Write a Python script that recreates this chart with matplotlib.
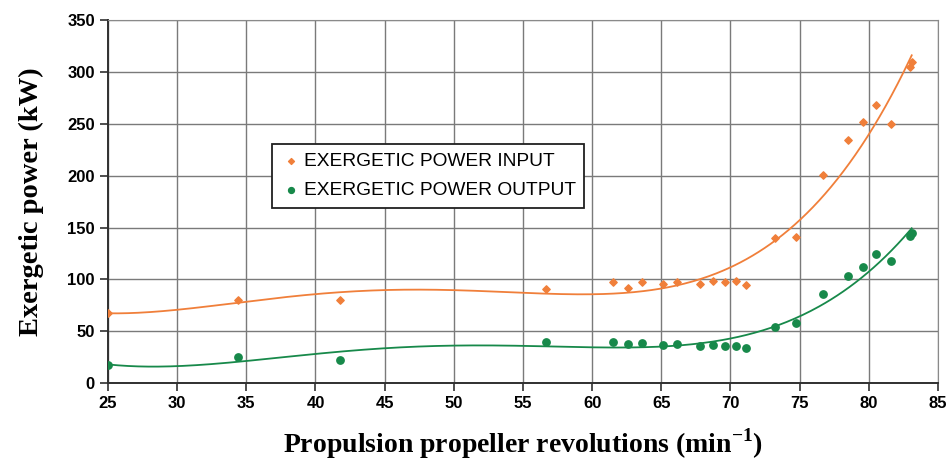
import numpy as np
import matplotlib
matplotlib.use("Agg")
import matplotlib.pyplot as plt

plt.rcParams["mathtext.fontset"] = "custom"
plt.rcParams["mathtext.bf"] = "Liberation Serif:bold"
plt.rcParams["mathtext.rm"] = "Liberation Serif:bold"

rpm = [25.0, 34.4, 41.8, 56.7, 61.5, 62.6, 63.6, 65.1, 66.1, 67.8, 68.7, 69.6, 70.4, 71.1,
       73.2, 74.7, 76.7, 78.5, 79.6, 80.5, 81.6, 83.0, 83.1]
power_in = [67.5, 80, 80, 90.5, 97.5, 91.5, 97.5, 96, 97.5, 96, 98, 97.5, 98, 94.5,
            139.5, 141, 201, 234.5, 252, 268, 250, 305, 310]
power_out = [17.5, 24.8, 22.5, 40, 40, 37.6, 39, 37, 37.5, 35.7, 36.5, 35.7, 36, 33.5,
             54.4, 57.6, 85.6, 103.3, 111.7, 124.5, 117.8, 142, 144.5]

label_in = "EXERGETIC POWER INPUT"
label_out = "EXERGETIC POWER OUTPUT"
xlabel = "Propulsion propeller revolutions (min$^{\\mathbf{-1}}$)"
ylabel = "Exergetic power (kW)"

c_in = "#f07f3a"
c_out = "#17894a"

fig = plt.figure(figsize=(9.52, 4.70), dpi=100)
ax = fig.add_axes([0.1134, 0.185, 0.8719, 0.772])

x = np.array(rpm)
xs = np.linspace(min(rpm), max(rpm), 400)
deg = 4
p_in = np.polyfit(x, power_in, deg)
p_out = np.polyfit(x, power_out, deg)
ax.plot(xs, np.polyval(p_in, xs), color=c_in, lw=1.3, zorder=3)
ax.plot(xs, np.polyval(p_out, xs), color=c_out, lw=1.3, zorder=3)

ax.scatter(rpm, power_in, marker="D", s=14, color=c_in, zorder=4, label=label_in)
ax.scatter(rpm, power_out, marker="o", s=28, color=c_out, zorder=4, label=label_out)

ax.set_xlim(25, 85)
ax.set_ylim(0, 350)
ax.set_xticks(np.arange(25, 86, 5))
ax.set_yticks(np.arange(0, 351, 50))
ax.grid(True, color="#7a7a7a", lw=1.0)
ax.set_axisbelow(True)
for s in ["top", "right"]:
    ax.spines[s].set_color("#8a8a8a")
for s in ["left", "bottom"]:
    ax.spines[s].set_color("#303030")
    ax.spines[s].set_linewidth(1.4)
ax.tick_params(axis="both", direction="out", length=6, width=1.2, color="#303030")
for lab in ax.get_xticklabels() + ax.get_yticklabels():
    lab.set_fontfamily("Liberation Sans")
    lab.set_fontweight("bold")
    lab.set_fontsize(12)

ax.set_xlabel(xlabel, fontfamily="Liberation Serif", fontweight="bold", fontsize=20, labelpad=11)
ax.set_ylabel(ylabel, fontfamily="Liberation Serif", fontweight="bold", fontsize=20.5, labelpad=17)

leg = ax.legend(loc="upper left", bbox_to_anchor=(0.186, 0.685), frameon=True, fancybox=False,
                edgecolor="#202020", framealpha=1, prop={"family": "Liberation Sans", "size": 13.8},
                handletextpad=0.1, handlelength=1.1, borderpad=0.45, labelspacing=0.6,
                markerscale=0.8)
leg.get_frame().set_linewidth(1.3)

fig.savefig("out.png", dpi=100)
